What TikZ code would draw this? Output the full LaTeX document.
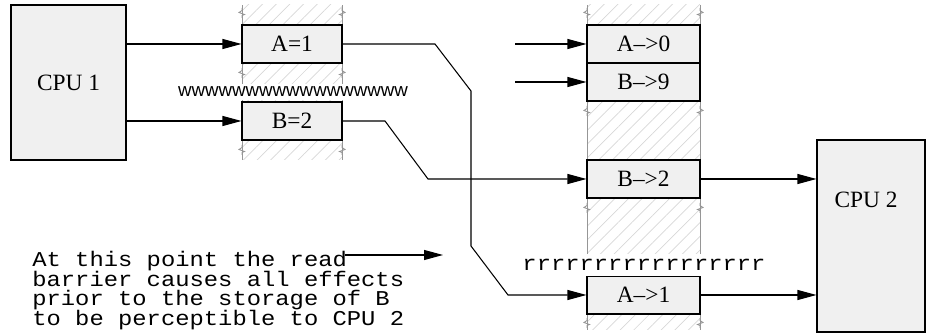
\documentclass[tikz,border=0pt]{standalone}
\usepackage{fontspec}
\setmainfont{Liberation Serif}
\newfontfamily\notefont[FakeStretch=1.13]{Liberation Mono}
\newfontfamily\wfont{Liberation Sans}
\usepackage{xcolor}
\definecolor{boxgray}{RGB}{240,240,240}
\definecolor{edgegray}{RGB}{150,150,150}
\definecolor{hatchgray}{RGB}{215,215,215}
\usetikzlibrary{arrows.meta, patterns.meta, positioning}

\newcommand{\notesize}{\fontsize{12}{11.2}\selectfont\setlength{\lineskiplimit}{-20pt}}

\tikzset{brk/.pic={\draw[edgegray, line width=0.5pt] (0,0.1) -- (0,0.05) -- (-0.06,0.01) -- (0.05,-0.03) -- (0,-0.05) -- (0,-0.1);}}

\begin{document}
\begin{tikzpicture}[
    membox/.style={draw, fill=boxgray, line width=0.6pt, inner sep=0pt,
      minimum width=2cm, minimum height=0.76cm, font=\fontsize{13.3}{16}\selectfont},
    readbox/.style={membox, minimum width=2.26cm},
    cpubox/.style={draw, fill=boxgray, line width=0.6pt, inner sep=0pt,
      font=\fontsize{13.3}{16}\selectfont},
    hatchzone/.style={pattern={Lines[angle=45,distance=5.5pt,line width=0.4pt]}, pattern color=hatchgray},
    coledge/.style={edgegray, line width=0.5pt},
    arr/.style={-{Triangle[length=3.8mm,width=2mm]}, line width=0.6pt},
    notetext/.style={font=\notefont\notesize, align=left, inner sep=0pt}
  ]
  \useasboundingbox (0,0) rectangle (18.52,6.70);

  % Memory columns (hatched gaps)
  \foreach \ya/\yb/\yk in {6.20/6.60/6.44, 4.66/5.44/5.24, 3.50/3.90/3.70}{
    \fill[hatchzone] (4.84,\ya) rectangle (6.84,\yb);
    \draw[coledge] (4.84,\ya) -- (4.84,\yb) (6.84,\ya) -- (6.84,\yb);
    \pic at (4.84,\yk) {brk};
    \pic[xscale=-1] at (6.84,\yk) {brk};
  }
  \foreach \ya/\yb/\yk in {6.20/6.60/6.44, 3.50/4.68/4.48, 1.18/2.74/2.54, 0.10/0.42/0.24}{
    \fill[hatchzone] (11.74,\ya) rectangle (14.00,\yb);
    \draw[coledge] (11.74,\ya) -- (11.74,\yb) (14.00,\ya) -- (14.00,\yb);
    \pic at (11.74,\yk) {brk};
    \pic[xscale=-1] at (14.00,\yk) {brk};
  }

  % CPUs
  \node[cpubox, minimum width=2.30cm, minimum height=3.10cm] (cpu1) at (1.37,5.05) {CPU 1};
  \node[cpubox, minimum width=2.16cm, minimum height=3.84cm] (cpu2) at (17.42,1.98) {};
  \node[font=\fontsize{13.3}{16}\selectfont] (cpu2txt) at (17.32,2.70) {CPU 2};

  % Write side
  \node[membox] (a1) at (5.84,5.82) {A=1};
  \node[membox] (b2) at (5.84,4.28) {B=2};
  \node[font=\wfont\fontsize{10.66}{12}\selectfont, fill=white, inner xsep=1pt, inner ysep=2pt] (wmark) at (5.86,4.86) {wwwwwwwwwwwwwwwww};

  % Read side
  \node[readbox] (ar0) at (12.87,5.82) {A--{}>0};
  \node[readbox] (br9) at (12.87,5.06) {B--{}>9};
  \node[readbox] (br2) at (12.87,3.12) {B--{}>2};
  \node[readbox] (ar1) at (12.87,0.80) {A--{}>1};
  \node[font=\notefont\fontsize{12}{14}\selectfont, fill=white, inner xsep=1pt, inner ysep=3pt] (rmark) at (12.88,1.40) {rrrrrrrrrrrrrrrrr};

  % Connectors
  \draw[arr] (cpu1.east |- a1) -- (a1.west);
  \draw[arr] (cpu1.east |- b2) -- (b2.west);
  \draw[arr] (a1.east) -- (8.70,5.82) -- (9.42,4.88) -- (9.42,1.78) -- (10.16,0.80) -- (ar1.west);
  \draw[arr] (b2.east) -- (7.70,4.28) -- (8.56,3.12) -- (br2.west);
  \coordinate (ina) at (10.30,5.82);
  \coordinate (inb) at (10.30,5.06);
  \draw[arr] (ina) -- (ar0.west);
  \draw[arr] (inb) -- (br9.west);
  \draw[arr] (br2.east) -- (cpu2.west |- br2);
  \draw[arr] (ar1.east) -- (cpu2.west |- ar1);

  % Note
  \node[notetext, anchor=north west] (note) at (0.64,1.68)
    {At this point the read\\barrier causes all effects\\prior to the storage of B\\to be perceptible to CPU 2};
  \coordinate (noteend) at (6.90,1.60);
  \coordinate (notetip) at (8.86,1.60);
  \draw[arr] (noteend) -- (notetip);
\end{tikzpicture}
\end{document}
